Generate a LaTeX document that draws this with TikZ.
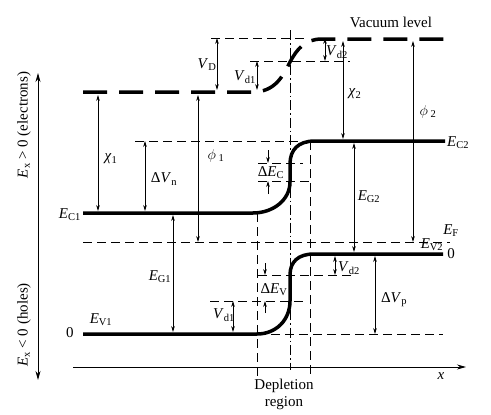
\documentclass[tikz,border=0pt]{standalone}
\usepackage{fontspec}
\usepackage{amsmath}
\usetikzlibrary{arrows.meta}
\setmainfont{Liberation Serif}
\newcommand{\lv}[2]{\textit{#1}$_{\text{#2}}$}
\begin{document}
\begin{tikzpicture}[x=1pt,y=-1pt,>={Stealth[length=6pt,width=3.6pt]},
    font=\fontsize{15}{17}\selectfont,
    band/.style={line width=3.5pt},
    vac/.style={line width=3.5pt,dash pattern=on 24pt off 12pt},
    guide/.style={line width=0.8pt,dash pattern=on 9pt off 5pt},
    dim/.style={line width=0.8pt,<->},
    tick/.style={line width=0.8pt,->},
    axis/.style={line width=0.8pt,>={Stealth[length=9pt,width=5pt]}}]
    \useasboundingbox (0,0) rectangle (491,415);
    % axes
    \draw[axis,<->] (38,73) -- (38,380);
    \draw[axis,->] (73,367) -- (466,367);
    \node (xlab) at (441,376) {\textit{x}};
    \node[rotate=90] (elec) at (24,125) {\lv{E}{x} > 0 (electrons)};
    \node[rotate=90] (hole) at (24,325) {\lv{E}{x} < 0 (holes)};
    % depletion region
    \draw[guide] (257,213) -- (257,378);
    \draw[guide] (310,141) -- (310,378);
    \draw[line width=0.8pt,dash pattern=on 10pt off 3pt on 1.5pt off 3pt] (290,30) -- (290,370);
    \node[align=center,inner sep=0pt] (depl) at (284,394) {Depletion\\region};
    % reference levels
    \draw[guide] (211,38) -- (307,38);
    \draw[guide] (250,61) -- (350,61);
    \draw[guide] (135,141) -- (312,141);
    \draw[guide] (258,163) -- (303,163);
    \draw[guide] (258,181) -- (310,181);
    \draw[guide] (83,242) -- (450,242);
    \draw[guide] (258,275) -- (353,275);
    \draw[guide] (210,301) -- (305,301);
    \draw[guide] (257,334) -- (443,334);
    % bands
    \draw[vac] (83,92) -- (253,92) .. controls (275,92) and (283,76) .. (290,62)
        .. controls (297,49) and (305,39) .. (322,39) -- (447,39);
    \draw[band] (83,213) -- (253,213) .. controls (273,213) and (290,200) .. (290,182)
        -- (290,164) .. controls (290,150) and (298,141) .. (315,141) -- (445,141);
    \draw[band] (83,334) -- (257,334) .. controls (276,334) and (290,320) .. (290,301)
        -- (290,275) .. controls (290,262) and (298,254) .. (314,254) -- (443,254);
    % energy differences
    \draw[dim] (217,38) -- (217,90);
    \draw[dim] (257,61) -- (257,90);
    \draw[dim] (325,38) -- (325,61);
    \draw[dim] (343,41) -- (343,139);
    \draw[dim] (413,41) -- (413,242);
    \draw[dim] (98,95) -- (98,211);
    \draw[dim] (145,141) -- (145,211);
    \draw[dim] (198,95) -- (198,242);
    \draw[dim] (173,215) -- (173,332);
    \draw[dim] (354,143) -- (354,252);
    \draw[dim] (335,256) -- (335,275);
    \draw[dim] (375,256) -- (375,334);
    \draw[dim] (233,301) -- (233,332);
    \draw[tick] (268,150) -- (268,163);
    \draw[tick] (268,194) -- (268,181);
    \draw[tick] (265,263) -- (265,275);
    \draw[tick] (265,313) -- (265,301);
    % labels
    \node (vlev) at (391,22) {Vacuum level};
    \node (vD) at (207,65) {\lv{V}{D}};
    \node (vd1t) at (245,77) {\lv{V}{d1}};
    \node (vd2t) at (337,52) {\lv{V}{d2}};
    \node (chi2) at (355,94) {\textit{χ}$_{\text{2}}$};
    \node (phi2) at (428,112) {$\phi_{\text{ 2}}$};
    \node (chi1) at (111,159) {\textit{χ}$_{\text{1}}$};
    \node (dvn) at (164,179) {Δ\lv{V}{n}};
    \node (phi1) at (216,156) {$\phi_{\text{ 1}}$};
    \node (dec) at (271,173) {Δ\lv{E}{C}};
    \node[left,inner sep=2pt] (ec1) at (83,215) {\lv{E}{C1}};
    \node[right,inner sep=2pt] (ec2) at (445,143) {\lv{E}{C2}};
    \node (eg1) at (160,277) {\lv{E}{G1}};
    \node (eg2) at (369,197) {\lv{E}{G2}};
    \node (ef) at (451,231) {\lv{E}{F}};
    \node (ev2) at (432,245) {\lv{E}{V2}};
    \node (zero2) at (451,254) {0};
    \node (vd2b) at (349,268) {\lv{V}{d2}};
    \node (dvp) at (394,300) {Δ\lv{V}{p}};
    \node (dev) at (274,290) {Δ\lv{E}{V}};
    \node (vd1b) at (224,315) {\lv{V}{d1}};
    \node (ev1) at (101,320) {\lv{E}{V1}};
    \node (zero1) at (70,333) {0};
\end{tikzpicture}
\end{document}
